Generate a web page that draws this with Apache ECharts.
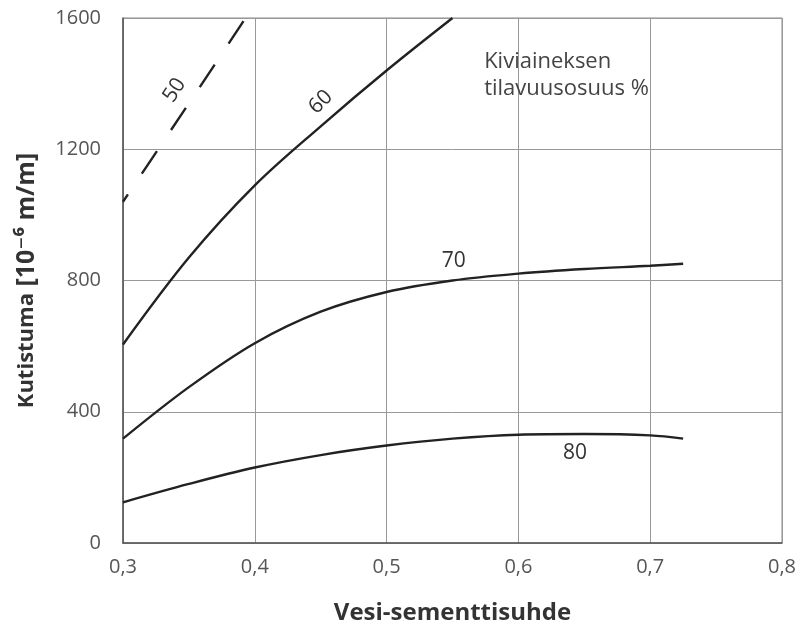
<!DOCTYPE html>
<html><head><meta charset="utf-8">
<script src="https://cdn.jsdelivr.net/npm/echarts@6/dist/echarts.min.js"></script>
<style>html,body{margin:0;padding:0;background:#fff}#c{width:795px;height:623px}</style>
</head><body><div id="c"></div>
<script>
const xTicks = [0.3, 0.4, 0.5, 0.6, 0.7, 0.8];
const yTicks = [0, 400, 800, 1200, 1600];

const x50 = [0.3, 0.33, 0.36, 0.393];
const y50 = [1040, 1220, 1400, 1600];

const x60 = [0.3, 0.35, 0.4, 0.45, 0.5, 0.55];
const y60 = [605, 870, 1090, 1270, 1440, 1600];

const x70 = [0.3, 0.35, 0.4, 0.45, 0.5, 0.55, 0.6, 0.65, 0.7, 0.725];
const y70 = [318, 475, 609, 705, 765, 800, 821, 835, 845, 851];

const x80 = [0.3, 0.35, 0.4, 0.45, 0.5, 0.55, 0.6, 0.65, 0.7, 0.725];
const y80 = [124, 180, 230, 268, 297, 318, 330, 332, 328, 318];

const curveLabels = [
  {text: '50', x: 0.339, y: 1380, rot: 57},
  {text: '60', x: 0.450, y: 1344, rot: 45},
  {text: '70', x: 0.551, y: 860, rot: 0},
  {text: '80', x: 0.643, y: 274, rot: 0}
];
const noteLines = ['Kiviaineksen', 'tilavuusosuus %'];

const pairs = (xs, ys) => xs.map((x, i) => [x, ys[i]]);
const fmtX = v => v.toFixed(1).replace('.', ',');
const fmtY = v => String(Math.round(v));
const F = '"Open Sans", "DejaVu Sans", sans-serif';

const chart = echarts.init(document.getElementById('c'), null, {renderer: 'canvas'});
const lineStyle = {color: '#222', width: 2.4};
function ser(xs, ys, dashed) {
  return {
    type: 'line', data: pairs(xs, ys), smooth: 0.35, symbol: 'none',
    lineStyle: Object.assign({}, lineStyle, dashed ? {type: [27, 25], dashOffset: 18} : {}),
    clip: true, silent: true
  };
}
chart.setOption({
  animation: false,
  backgroundColor: '#fff',
  grid: {left: 123, right: 13, top: 18, bottom: 80, show: true, borderColor: '#888', borderWidth: 1,
         containLabel: false, outerBoundsMode: 'none'},
  xAxis: {
    type: 'value', min: 0.3, max: 0.8, interval: 0.1,
    name: 'Vesi-sementtisuhde', nameLocation: 'middle', nameGap: 58,
    nameTextStyle: {fontFamily: F, fontSize: 24, fontWeight: 'bold', color: '#333'},
    axisLine: {show: true, lineStyle: {color: '#555', width: 1.5}},
    axisTick: {show: false},
    axisLabel: {formatter: fmtX, fontFamily: F, fontSize: 20, color: '#555', margin: 14},
    splitLine: {show: true, lineStyle: {color: '#999', width: 1}}
  },
  yAxis: {
    type: 'value', min: 0, max: 1600, interval: 400,
    name: '{a|Kutistuma}{b| [10⁻⁶ m/m]}', nameLocation: 'middle', nameGap: 84, nameRotate: 90,
    nameTextStyle: {
      fontFamily: F, fontSize: 22, fontWeight: 'bold', color: '#333',
      rich: {
        a: {fontFamily: F, fontSize: 22, fontWeight: 'bold', color: '#333'},
        b: {fontFamily: F, fontSize: 25, fontWeight: 'bold', color: '#333'}
      }
    },
    axisLine: {show: true, lineStyle: {color: '#555', width: 1.5}},
    axisTick: {show: false},
    axisLabel: {formatter: fmtY, fontFamily: F, fontSize: 20, color: '#555', margin: 22},
    splitLine: {show: true, lineStyle: {color: '#999', width: 1}}
  },
  series: [ser(x50, y50, true), ser(x60, y60), ser(x70, y70), ser(x80, y80)]
});

const g = [];
curveLabels.forEach(l => {
  const p = chart.convertToPixel({gridIndex: 0}, [l.x, l.y]);
  g.push({type: 'text', x: p[0], y: p[1], rotation: l.rot * Math.PI / 180,
    style: {text: l.text, fill: '#333', font: '21px ' + F, align: 'center', verticalAlign: 'middle'}});
});
const n0 = chart.convertToPixel({gridIndex: 0}, [0.574, 1466]);
noteLines.forEach((t, i) => {
  g.push({type: 'text', x: n0[0], y: n0[1] + i * 27,
    style: {text: t, fill: '#444', font: '22px ' + F, align: 'left', verticalAlign: 'middle'}});
});
chart.setOption({graphic: g});
</script></body></html>
